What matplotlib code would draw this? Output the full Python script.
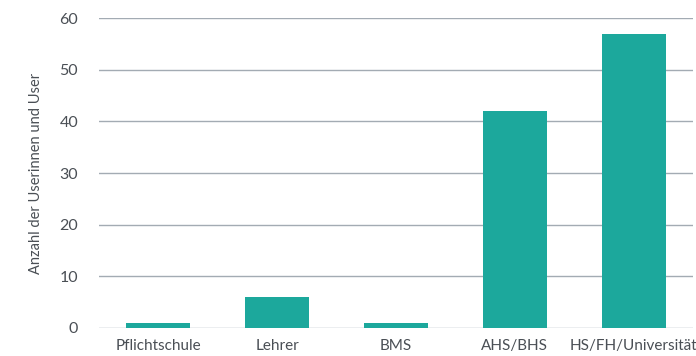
import matplotlib
matplotlib.use("Agg")
import matplotlib.pyplot as plt

categories = ["Pflichtschule", "Lehrer", "BMS", "AHS/BHS", "HS/FH/Universität"]
values = [1, 6, 1, 42, 57]
yticks = [0, 10, 20, 30, 40, 50, 60]

plt.rcParams["font.family"] = ["Lato", "DejaVu Sans"]
text_color = "#4a4f55"

fig = plt.figure(figsize=(6.96, 3.56), dpi=100)
ax = fig.add_axes([0.1422, 0.0787, 0.8535, 0.8703])

ax.bar(range(len(categories)), values, width=0.54, color="#1ca89c", zorder=3)

ax.set_xlim(-0.5, len(categories) - 0.5)
ax.set_ylim(0, 60)
ax.set_yticks(yticks)
ax.set_xticks(range(len(categories)))
ax.set_xticklabels(categories)
ax.grid(axis="y", color="#a3abb3", linewidth=1.0, zorder=0)
ax.tick_params(axis="y", length=0, labelsize=11.5, colors=text_color, pad=15)
ax.tick_params(axis="x", length=0, labelsize=11, colors=text_color, pad=8)
for s in ax.spines.values():
    s.set_visible(False)
ax.set_ylabel("Anzahl der Userinnen und User", fontsize=10.5, color=text_color, labelpad=12)

fig.savefig("out.png", dpi=100)
